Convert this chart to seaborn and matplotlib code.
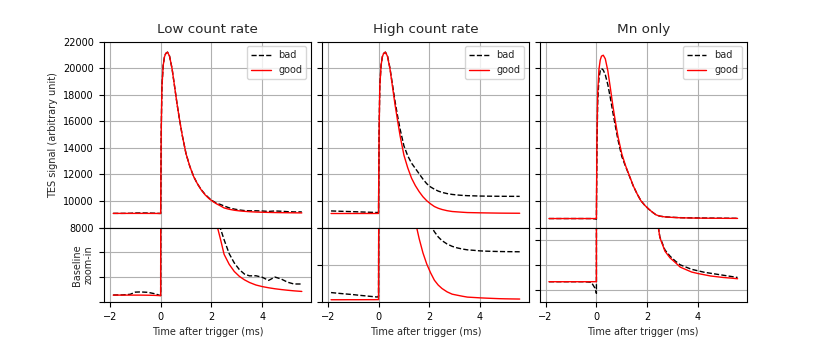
import numpy as np
import pandas as pd
import matplotlib
matplotlib.use("Agg")
import matplotlib.pyplot as plt
import seaborn as sns

# ---- data (time in ms, signal in arbitrary units) ----
time_ms = [-1.87, -1.5, -1.2, -1.0, -0.8, -0.5, -0.2, -0.05, 0.0, 0.02, 0.05, 0.1, 0.15,
           0.2, 0.27, 0.35, 0.45, 0.55, 0.65, 0.75, 0.85, 1.0, 1.15, 1.3, 1.45, 1.6,
           1.75, 1.9, 2.05, 2.2, 2.35, 2.5, 2.7, 2.9, 3.1, 3.3, 3.5, 3.75, 4.0, 4.25,
           4.5, 4.75, 5.0, 5.25, 5.56]

low_bad = [9071, 9072, 9078, 9100, 9102, 9098, 9082, 9068, 9066, 15000, 18600, 20200, 20850,
           21100, 21200, 20900, 19950, 18600, 17250, 16050, 14950, 13550, 12600, 11840, 11290, 10850,
           10500, 10230, 10010, 9830, 9745, 9627, 9487, 9394, 9327, 9282, 9264, 9265, 9250, 9218,
           9252, 9232, 9200, 9182, 9182]
low_good = [9070, 9070, 9070, 9070, 9070, 9069, 9067, 9065, 9064, 15000, 18600, 20200, 20850,
            21100, 21200, 20900, 19950, 18600, 17250, 16050, 14950, 13550, 12600, 11840, 11290, 10830,
            10470, 10190, 9970, 9790, 9640, 9480, 9380, 9308, 9259, 9224, 9197, 9172, 9156, 9144,
            9134, 9126, 9119, 9113, 9107]

high_bad = [9255, 9230, 9212, 9200, 9185, 9165, 9145, 9135, 9150, 15050, 18650, 20200, 20850,
            21100, 21200, 20950, 20000, 18750, 17500, 16400, 15400, 14150, 13400, 12850, 12450, 12050,
            11650, 11300, 11060, 10890, 10750, 10650, 10560, 10497, 10455, 10425, 10403, 10390, 10375, 10367,
            10362, 10358, 10355, 10353, 10351]
high_good = [9062, 9062, 9063, 9063, 9063, 9064, 9064, 9065, 9065, 15000, 18600, 20200, 20850,
             21100, 21200, 20900, 19950, 18600, 17250, 16050, 14900, 13450, 12500, 11720, 11160, 10705,
             10320, 10020, 9786, 9587, 9457, 9364, 9274, 9212, 9184, 9157, 9133, 9123, 9113, 9105,
             9098, 9091, 9087, 9084, 9081]

mn_bad = [8682, 8682, 8682, 8682, 8682, 8682, 8680, 8655, 8635, 13800, 17400, 19200, 19800,
          19970, 19850, 19500, 18750, 17750, 16650, 15600, 14600, 13350, 12600, 11880, 11140, 10550,
          10030, 9690, 9410, 9170, 8960, 8862, 8810, 8785, 8766, 8750, 8742, 8732, 8726, 8720,
          8716, 8712, 8708, 8704, 8699]
mn_good = [8682, 8682, 8682, 8682, 8682, 8682, 8682, 8682, 8682, 14500, 18100, 19900, 20600,
           20900, 20970, 20700, 19800, 18500, 17150, 15950, 14850, 13550, 12650, 11900, 11150, 10550,
           10030, 9690, 9410, 9170, 8960, 8860, 8805, 8778, 8760, 8741, 8732, 8721, 8715, 8710,
           8705, 8702, 8699, 8697, 8694]

titles = ["Low count rate", "High count rate", "Mn only"]
bad_series = [low_bad, high_bad, mn_bad]
good_series = [low_good, high_good, mn_good]

# baseline zoom-in ranges for the lower row
zoom_limits = [(9000, 9750), (9000, 11000), (8600, 8900)]
zoom_ticks = [[9000, 9250, 9500, 9750], [9000, 10000, 11000], [8650, 8750, 8850]]

sns.set_theme(style="ticks", rc={
    "axes.edgecolor": "black",
    "axes.linewidth": 0.8,
    "xtick.color": "black",
    "ytick.color": "black",
    "xtick.major.size": 3.5,
    "ytick.major.size": 3.5,
    "xtick.major.width": 0.8,
    "ytick.major.width": 0.8,
    "xtick.major.pad": 3.5,
    "ytick.major.pad": 3.5,
    "axes.labelpad": 4.0,
    "grid.color": "#b0b0b0",
    "grid.linewidth": 0.8,
    "xtick.labelsize": 7,
    "ytick.labelsize": 7,
    "axes.labelsize": 7,
    "axes.titlesize": 9.7,
    "legend.fontsize": 7,
})
plt.rcParams["font.family"] = ["DejaVu Sans"]

fig = plt.figure(figsize=(8.3, 3.46), dpi=100)
gs = fig.add_gridspec(2, 3, height_ratios=[5, 2], hspace=0, wspace=0.05,
                      left=0.125, right=0.9, top=0.88, bottom=0.127)

top_axes = []
bottom_axes = []
for i in range(3):
    if i == 0:
        ax_top = fig.add_subplot(gs[0, i])
    else:
        ax_top = fig.add_subplot(gs[0, i], sharex=top_axes[0], sharey=top_axes[0])
    ax_bot = fig.add_subplot(gs[1, i], sharex=top_axes[0] if top_axes else ax_top)
    top_axes.append(ax_top)
    bottom_axes.append(ax_bot)

for i in range(3):
    df = pd.DataFrame({"t": time_ms, "bad": bad_series[i], "good": good_series[i]})
    for ax in (top_axes[i], bottom_axes[i]):
        sns.lineplot(data=df, x="t", y="bad", ax=ax, color="black", linestyle="--",
                     linewidth=1.0, estimator=None, sort=False, label="bad")
        sns.lineplot(data=df, x="t", y="good", ax=ax, color="red",
                     linewidth=1.0, estimator=None, sort=False, label="good")
        ax.grid(True)
        ax.set_xlabel("")
        ax.set_ylabel("")

    top_axes[i].set_title(titles[i])
    top_axes[i].legend(loc="upper right", fancybox=True, framealpha=0.8, edgecolor="#cccccc")
    top_axes[i].tick_params(labelbottom=False)
    bottom_axes[i].get_legend().remove()
    bottom_axes[i].set_ylim(*zoom_limits[i])
    bottom_axes[i].set_yticks(zoom_ticks[i])
    bottom_axes[i].tick_params(labelleft=False)
    bottom_axes[i].set_xlabel("Time after trigger (ms)")
    if i > 0:
        top_axes[i].tick_params(labelleft=False)

top_axes[0].set_ylim(8000, 22000)
top_axes[0].set_xticks([-2, 0, 2, 4])
top_axes[0].set_ylabel("TES signal (arbitrary unit)")
bottom_axes[0].set_ylabel("Baseline\nzoom-in")

fig.savefig("out.png", dpi=100)
